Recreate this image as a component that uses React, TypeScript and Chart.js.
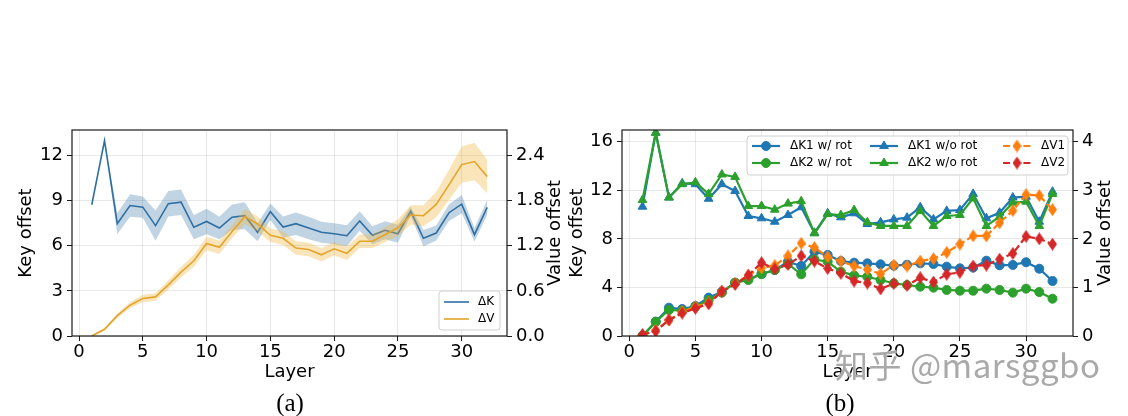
import React, { useRef, useEffect } from 'react';
import { Chart, registerables } from 'chart.js';
import type { ChartConfiguration, Plugin } from 'chart.js';
import { drawPoint } from 'chart.js/helpers';

Chart.register(...registerables);

const SANS = '"DejaVu Sans", sans-serif';

// shared x axis
const layers = [1, 2, 3, 4, 5, 6, 7, 8, 9, 10, 11, 12, 13, 14, 15, 16, 17, 18, 19, 20, 21, 22, 23, 24, 25, 26, 27, 28, 29, 30, 31, 32];
const layerTicks = [0, 5, 10, 15, 20, 25, 30];

// (a) mean offsets with their spread
const keyOffset = [8.73, 13.0, 7.47, 8.68, 8.57, 7.34, 8.8, 8.9, 7.23, 7.62, 7.18, 7.9, 8.0, 6.9, 8.27, 7.25, 7.47, 7.18, 6.9, 6.8, 6.67, 7.65, 6.7, 7.03, 6.8, 8.29, 6.5, 6.85, 8.2, 8.77, 6.74, 8.55];
const keySpread = [0.05, 0.1, 0.7, 0.75, 0.7, 1.0, 0.85, 0.85, 0.8, 0.85, 0.75, 0.85, 0.9, 0.6, 0.55, 0.7, 0.75, 0.75, 0.7, 0.7, 0.7, 0.65, 0.6, 0.6, 0.6, 0.3, 0.55, 0.5, 0.55, 0.6, 0.45, 0.5];
const valueOffset = [0.0, 0.09, 0.27, 0.41, 0.5, 0.52, 0.68, 0.85, 1.0, 1.23, 1.18, 1.39, 1.59, 1.49, 1.34, 1.3, 1.17, 1.15, 1.08, 1.16, 1.1, 1.26, 1.26, 1.35, 1.44, 1.61, 1.6, 1.75, 2.01, 2.28, 2.32, 2.12];
const valueSpread = [0.01, 0.02, 0.03, 0.04, 0.05, 0.05, 0.06, 0.07, 0.08, 0.09, 0.09, 0.09, 0.1, 0.1, 0.09, 0.09, 0.09, 0.09, 0.09, 0.09, 0.09, 0.09, 0.09, 0.1, 0.11, 0.13, 0.14, 0.17, 0.2, 0.24, 0.25, 0.22];
const aKeyTicks = [0, 3, 6, 9, 12];
const aValueTicks = [0, 0.6, 1.2, 1.8, 2.4];

// (b) offsets with and without rotation
const k1Rot = [0.02, 1.18, 2.33, 2.22, 2.47, 3.16, 3.65, 4.39, 4.67, 5.1, 5.43, 6.12, 5.76, 6.94, 6.67, 6.17, 6.04, 5.98, 5.9, 5.79, 5.87, 5.98, 5.93, 5.71, 5.57, 5.63, 6.2, 5.82, 5.85, 6.07, 5.54, 4.53];
const k2Rot = [0.02, 1.18, 2.14, 2.09, 2.41, 2.96, 3.57, 4.39, 4.61, 5.1, 5.43, 5.93, 5.08, 6.31, 6.12, 5.3, 4.99, 4.88, 4.61, 4.34, 4.2, 4.06, 3.98, 3.79, 3.73, 3.73, 3.9, 3.79, 3.57, 3.9, 3.62, 3.07];
const k1NoRot = [10.65, 16.74, 11.4, 12.57, 12.5, 11.3, 12.5, 11.94, 9.88, 9.69, 9.41, 9.96, 10.6, 8.5, 10.1, 9.77, 10.1, 9.22, 9.36, 9.6, 9.74, 10.6, 9.6, 10.3, 10.37, 11.7, 9.69, 10.15, 11.4, 11.47, 9.41, 11.88];
const k2NoRot = [11.2, 16.74, 11.4, 12.5, 12.65, 11.7, 13.3, 13.1, 10.7, 10.7, 10.4, 10.9, 11.1, 8.45, 10.04, 9.96, 10.37, 9.36, 9.06, 9.06, 9.06, 10.3, 9.06, 9.88, 9.96, 11.33, 9.06, 9.82, 10.98, 11.06, 9.06, 11.7];
const v1 = [0.02, 0.12, 0.33, 0.5, 0.6, 0.68, 0.92, 1.08, 1.25, 1.4, 1.45, 1.65, 1.91, 1.82, 1.63, 1.54, 1.44, 1.37, 1.28, 1.46, 1.44, 1.54, 1.59, 1.72, 1.89, 2.06, 2.06, 2.33, 2.58, 2.91, 2.89, 2.6];
const v2 = [0.03, 0.1, 0.33, 0.47, 0.57, 0.66, 0.92, 1.06, 1.25, 1.51, 1.38, 1.47, 1.65, 1.54, 1.39, 1.29, 1.13, 1.09, 0.97, 1.08, 1.04, 1.2, 1.11, 1.27, 1.31, 1.44, 1.46, 1.58, 1.7, 2.05, 2.0, 1.89];
const bKeyTicks = [0, 4, 8, 12, 16];
const bValueTicks = [0, 1, 2, 3, 4];

const pts = (ys: number[]) => layers.map((x, i) => ({ x, y: ys[i] }));

// matplotlib 'd' marker
function thinDiamond(color: string) {
  const c = document.createElement('canvas');
  c.width = 9;
  c.height = 13;
  const g = c.getContext('2d')!;
  g.fillStyle = color;
  g.beginPath();
  g.moveTo(4.5, 0);
  g.lineTo(9, 6.5);
  g.lineTo(4.5, 13);
  g.lineTo(0, 6.5);
  g.closePath();
  g.fill();
  return c;
}

const framePlugin: Plugin = {
  id: 'frame',
  afterDatasetsDraw(chart) {
    const { ctx, chartArea: a } = chart;
    ctx.save();
    ctx.strokeStyle = '#1a1a1a';
    ctx.lineWidth = 1.2;
    ctx.strokeRect(a.left, a.top, a.right - a.left, a.bottom - a.top);
    ctx.restore();
  },
};

// right axis title reading bottom to top, like matplotlib
const rightTitlePlugin: Plugin = {
  id: 'rightTitle',
  afterDraw(chart, _args, opts: any) {
    if (!opts || !opts.text) return;
    const { ctx, chartArea: a } = chart;
    ctx.save();
    ctx.translate(a.right + opts.dx, (a.top + a.bottom) / 2);
    ctx.rotate(-Math.PI / 2);
    ctx.font = `18px ${SANS}`;
    ctx.fillStyle = '#000';
    ctx.textAlign = 'center';
    ctx.textBaseline = 'middle';
    ctx.fillText(opts.text, 0, 0);
    ctx.restore();
  },
};

const boxLegendPlugin: Plugin = {
  id: 'boxLegend',
  afterDraw(chart, _args, opts: any) {
    if (!opts || !opts.items) return;
    const { ctx, chartArea: a } = chart;
    const x0 = a.right - opts.right - opts.width;
    const y0 = opts.top != null ? a.top + opts.top : a.bottom - opts.bottom - opts.height;
    ctx.save();
    ctx.beginPath();
    ctx.roundRect(x0, y0, opts.width, opts.height, 3);
    ctx.fillStyle = 'rgba(255,255,255,0.85)';
    ctx.fill();
    ctx.strokeStyle = '#d0d0d0';
    ctx.lineWidth = 1;
    ctx.stroke();
    for (const it of opts.items) {
      const ds: any = chart.data.datasets[it.ds];
      const hx = x0 + opts.colX[it.col];
      const hy = y0 + opts.rowY[it.row];
      ctx.beginPath();
      ctx.strokeStyle = ds.borderColor;
      ctx.lineWidth = ds.borderWidth;
      ctx.setLineDash(ds.borderDash || []);
      ctx.moveTo(hx, hy);
      ctx.lineTo(hx + opts.handle, hy);
      ctx.stroke();
      ctx.setLineDash([]);
      if (ds.pointRadius > 0) {
        ctx.fillStyle = ds.pointBackgroundColor;
        ctx.strokeStyle = ds.pointBorderColor;
        ctx.lineWidth = 1;
        drawPoint(ctx, { pointStyle: ds.pointStyle, radius: ds.pointRadius, borderWidth: 1, rotation: 0 } as any, hx + opts.handle / 2, hy);
      }
      ctx.fillStyle = '#000';
      ctx.font = `12px ${SANS}`;
      ctx.textAlign = 'left';
      ctx.textBaseline = 'middle';
      ctx.fillText(ds.label, hx + opts.handle + opts.gap, hy);
    }
    ctx.restore();
  },
};

const tickFont = { family: SANS, size: 18 };
const gridStyle = { color: 'rgba(0,0,0,0.09)', tickColor: '#1a1a1a', tickLength: 5, lineWidth: 1 };

function axes(opts: {
  yMax: number; y1Max: number; yTicks: number[]; y1Ticks: number[];
  yWidth: number; y1Width: number; yTitlePad: number; y1Fixed?: number;
}) {
  return {
    x: {
      type: 'linear', min: -0.55, max: 33.55,
      afterBuildTicks: (s: any) => { s.ticks = layerTicks.map((value) => ({ value })); },
      afterFit: (s: any) => { s.height = 54; },
      grid: gridStyle,
      border: { display: false },
      ticks: { font: tickFont, color: '#000', padding: 1, maxRotation: 0, autoSkip: false },
      title: { display: true, text: 'Layer', font: tickFont, color: '#000', padding: { top: 0, bottom: 7 } },
    },
    y: {
      type: 'linear', position: 'left', min: 0, max: opts.yMax,
      afterBuildTicks: (s: any) => { s.ticks = opts.yTicks.map((value) => ({ value })); },
      afterFit: (s: any) => { s.width = opts.yWidth; },
      grid: gridStyle,
      border: { display: false },
      ticks: { font: tickFont, color: '#000', padding: 4 },
      title: { display: true, text: 'Key offset', font: tickFont, color: '#000', padding: { top: opts.yTitlePad, bottom: 0 } },
    },
    y1: {
      type: 'linear', position: 'right', min: 0, max: opts.y1Max,
      afterBuildTicks: (s: any) => { s.ticks = opts.y1Ticks.map((value) => ({ value })); },
      afterFit: (s: any) => { s.width = opts.y1Width; },
      grid: { ...gridStyle, drawOnChartArea: false },
      border: { display: false },
      ticks: {
        font: tickFont, color: '#000', padding: 4,
        callback: (v: any) => (opts.y1Fixed != null ? Number(v).toFixed(opts.y1Fixed) : String(v)),
      },
    },
  };
}

const K_BLUE = '#2f6fa3';
const V_GOLD = '#e3a52b';

function configA(): ChartConfiguration {
  return {
    type: 'line',
    data: {
      datasets: [
        { label: 'k-lo', data: pts(keyOffset.map((v, i) => v - keySpread[i])), yAxisID: 'y', borderWidth: 0, pointRadius: 0, fill: false, order: 6 },
        { label: 'k-hi', data: pts(keyOffset.map((v, i) => v + keySpread[i])), yAxisID: 'y', borderWidth: 0, pointRadius: 0, fill: '-1', backgroundColor: 'rgba(47,111,163,0.3)', order: 5 },
        { label: 'ΔK', data: pts(keyOffset), yAxisID: 'y', borderColor: K_BLUE, borderWidth: 1.6, pointRadius: 0, fill: false, order: 4 },
        { label: 'v-lo', data: pts(valueOffset.map((v, i) => v - valueSpread[i])), yAxisID: 'y1', borderWidth: 0, pointRadius: 0, fill: false, order: 3 },
        { label: 'v-hi', data: pts(valueOffset.map((v, i) => v + valueSpread[i])), yAxisID: 'y1', borderWidth: 0, pointRadius: 0, fill: '-1', backgroundColor: 'rgba(240,180,60,0.35)', order: 2 },
        { label: 'ΔV', data: pts(valueOffset), yAxisID: 'y1', borderColor: V_GOLD, borderWidth: 1.6, pointRadius: 0, fill: false, order: 1 },
      ] as any,
    },
    options: {
      responsive: false,
      animation: false,
      layout: { padding: { top: 20, left: 0, right: 0, bottom: 0 } },
      scales: axes({ yMax: 13.7, y1Max: 2.74, yTicks: aKeyTicks, y1Ticks: aValueTicks, yWidth: 72, y1Width: 63, yTitlePad: 16, y1Fixed: 1 }) as any,
      plugins: {
        legend: { display: false },
        tooltip: { enabled: false },
        rightTitle: { text: 'Value offset', dx: 48 },
        boxLegend: {
          right: 7, bottom: 6, width: 61, height: 39, handle: 25, gap: 9,
          colX: [5], rowY: [11, 28],
          items: [{ ds: 2, col: 0, row: 0 }, { ds: 5, col: 0, row: 1 }],
        },
      } as any,
    },
    plugins: [framePlugin, rightTitlePlugin, boxLegendPlugin],
  };
}

function configB(): ChartConfiguration {
  const line = (label: string, ys: number[], color: string, style: any, radius: number, order: number) => ({
    label, data: pts(ys), yAxisID: 'y', borderColor: color, borderWidth: 2.2,
    pointStyle: style, pointRadius: radius, pointBackgroundColor: color, pointBorderColor: color, pointBorderWidth: 1,
    fill: false, order,
  });
  const dashed = (label: string, ys: number[], color: string, order: number) => ({
    label, data: pts(ys), yAxisID: 'y1', borderColor: color, borderWidth: 2.2, borderDash: [7, 3.2],
    pointStyle: thinDiamond(color), pointRadius: 6, pointBackgroundColor: color, pointBorderColor: color,
    fill: false, order,
  });
  return {
    type: 'line',
    data: {
      datasets: [
        line('ΔK1 w/ rot', k1Rot, '#1f77b4', 'circle', 4.5, 6),
        line('ΔK2 w/ rot', k2Rot, '#2ca02c', 'circle', 4.5, 5),
        line('ΔK1 w/o rot', k1NoRot, '#1f77b4', 'triangle', 5, 4),
        line('ΔK2 w/o rot', k2NoRot, '#2ca02c', 'triangle', 5, 3),
        dashed('ΔV1', v1, '#ff7f0e', 2),
        dashed('ΔV2', v2, '#d62728', 1),
      ] as any,
    },
    options: {
      responsive: false,
      animation: false,
      layout: { padding: { top: 20, left: 0, right: 0, bottom: 0 } },
      scales: axes({ yMax: 16.96, y1Max: 4.24, yTicks: bKeyTicks, y1Ticks: bValueTicks, yWidth: 62, y1Width: 55, yTitlePad: 7 }) as any,
      plugins: {
        legend: { display: false },
        tooltip: { enabled: false },
        rightTitle: { text: 'Value offset', dx: 32 },
        boxLegend: {
          right: 5, top: 6, width: 321, height: 39, handle: 28, gap: 10,
          colX: [5, 123, 256], rowY: [10, 27],
          items: [
            { ds: 0, col: 0, row: 0 }, { ds: 1, col: 0, row: 1 },
            { ds: 2, col: 1, row: 0 }, { ds: 3, col: 1, row: 1 },
            { ds: 4, col: 2, row: 0 }, { ds: 5, col: 2, row: 1 },
          ],
        },
      } as any,
    },
    plugins: [framePlugin, rightTitlePlugin, boxLegendPlugin],
  };
}

const ChartPanel: React.FC<{ make: () => ChartConfiguration; left: number; top: number; width: number; height: number }> = ({ make, left, top, width, height }) => {
  const canvasRef = useRef<HTMLCanvasElement>(null);
  useEffect(() => {
    if (!canvasRef.current) return;
    const chart = new Chart(canvasRef.current, make());
    return () => chart.destroy();
  }, [make]);
  return (
    <canvas
      ref={canvasRef}
      width={width}
      height={height}
      style={{ position: 'absolute', left, top, width, height }}
    />
  );
};

const captionStyle: React.CSSProperties = {
  position: 'absolute', top: 388, width: 100, textAlign: 'center',
  fontFamily: '"Liberation Serif", serif', fontSize: 25, lineHeight: '30px', color: '#000',
};

export default function App() {
  return (
    <div style={{ position: 'absolute', left: 0, top: 0, width: 1128, height: 416, background: '#fff', overflow: 'hidden' }}>
      <ChartPanel make={configA} left={0} top={110} width={570} height={280} />
      <ChartPanel make={configB} left={560} top={110} width={568} height={280} />
      <div style={{ ...captionStyle, left: 240 }}>(a)</div>
      <div style={{ ...captionStyle, left: 790 }}>(b)</div>
      <div
        style={{
          position: 'absolute', left: 835, top: 344, fontSize: 33, lineHeight: '40px',
          fontFamily: '"Noto Sans CJK SC", "Noto Sans", sans-serif', color: 'rgba(160,160,160,0.9)',
          textShadow: '0 0 2px #fff, 0 0 1px #fff', whiteSpace: 'nowrap', letterSpacing: 0.5,
        }}
      >
        知乎 @marsggbo
      </div>
    </div>
  );
}
